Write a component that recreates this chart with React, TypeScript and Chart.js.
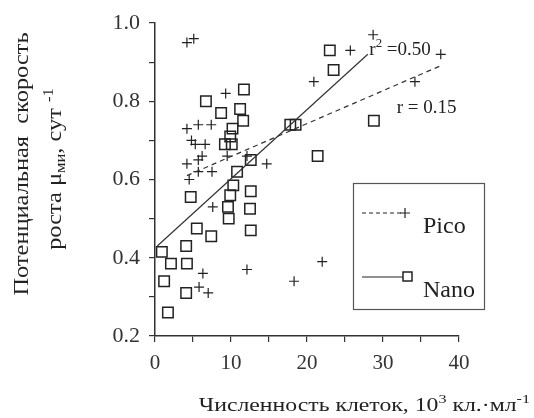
import React, { useEffect, useRef } from "react";
import { Chart, registerables } from "chart.js";
Chart.register(...registerables);

const picoX = [4.2, 5.1, 9.3, 28.7, 37.6, 34.2, 25.7, 20.9, 14.7, 22.0, 12.1, 18.3, 6.3, 5.8, 7.0, 7.6, 4.2, 5.7, 7.4, 4.8, 5.3, 6.6, 4.2, 5.7, 6.2, 12.1, 9.5, 5.7, 7.5, 4.5];
const picoY = [0.95, 0.96, 0.82, 0.97, 0.92, 0.85, 0.93, 0.85, 0.64, 0.39, 0.37, 0.34, 0.36, 0.325, 0.31, 0.53, 0.73, 0.74, 0.74, 0.70, 0.69, 0.69, 0.64, 0.65, 0.66, 0.66, 0.66, 0.62, 0.62, 0.60];
const nanoX = [11.7, 6.7, 8.7, 11.2, 11.6, 10.2, 9.9, 9.2, 10.1, 17.8, 18.5, 21.4, 23.0, 23.5, 28.8, 10.8, 12.6, 10.3, 4.7, 9.9, 12.6, 9.6, 12.5, 9.7, 5.5, 7.4, 12.6, 0.9, 2.1, 4.1, 4.2, 1.2, 4.1, 1.7];
const nanoY = [0.83, 0.80, 0.77, 0.78, 0.75, 0.73, 0.71, 0.69, 0.69, 0.74, 0.74, 0.66, 0.93, 0.88, 0.75, 0.62, 0.65, 0.585, 0.555, 0.56, 0.57, 0.53, 0.525, 0.50, 0.475, 0.455, 0.47, 0.415, 0.385, 0.43, 0.385, 0.34, 0.31, 0.26];
const picoFitX = [4.2, 37.5];
const picoFitY = [0.61, 0.89];
const nanoFitX = [0.3, 28.0];
const nanoFitY = [0.43, 0.92];
const xMin = 0, xMax = 40, xStep = 5;
const yMin = 0.2, yMax = 1.0, yStep = 0.1;
const legendLabels = ["Pico", "Nano"];
const annotR2 = { x: 28.2, y: 0.918, main: "r", sup: "2", rest: " =0.50" };
const annotR = { x: 31.8, y: 0.77, text: "r = 0.15" };

const FONT = '"Liberation Serif", "DejaVu Serif", serif';
const INK = "#222";

type Seg = { t: string; sup?: boolean; sub?: boolean };
function drawRich(ctx: CanvasRenderingContext2D, segs: Seg[], x: number, y: number, size: number, align: "left" | "center" | "right", sx = 1) {
  const parts = segs.map((s) => {
    const fs = s.sup || s.sub ? size * 0.68 : size;
    ctx.font = `${fs}px ${FONT}`;
    return { s, fs, w: ctx.measureText(s.t).width };
  });
  const total = parts.reduce((a, p) => a + p.w, 0) * sx;
  const x0 = align === "right" ? x - total : align === "center" ? x - total / 2 : x;
  ctx.save();
  ctx.translate(x0, y);
  ctx.scale(sx, 1);
  ctx.textAlign = "left";
  ctx.textBaseline = "alphabetic";
  let cx = 0;
  for (const p of parts) {
    ctx.font = `${p.fs}px ${FONT}`;
    const dy = p.s.sup ? -size * 0.42 : p.s.sub ? size * 0.22 : 0;
    ctx.fillText(p.s.t, cx, dy);
    cx += p.w;
  }
  ctx.restore();
}

const overlay = {
  id: "overlay",
  afterDraw(chart: any) {
    const ctx: CanvasRenderingContext2D = chart.ctx;
    const xs = chart.scales.x;
    const ys = chart.scales.y;
    ctx.save();
    ctx.fillStyle = INK;
    ctx.strokeStyle = INK;

    // annotations
    drawRich(ctx, [{ t: annotR2.main }, { t: annotR2.sup, sup: true }, { t: annotR2.rest }], xs.getPixelForValue(annotR2.x), ys.getPixelForValue(annotR2.y), 19, "left");
    drawRich(ctx, [{ t: annotR.text }], xs.getPixelForValue(annotR.x), ys.getPixelForValue(annotR.y), 19, "left");

    // legend box
    const bx = 353, by = 183, bw = 131, bh = 126;
    ctx.lineWidth = 1.2;
    ctx.strokeStyle = "#555";
    ctx.strokeRect(bx + 0.5, by + 0.5, bw, bh);
    ctx.strokeStyle = INK;
    // Pico entry
    ctx.lineWidth = 1.2;
    ctx.setLineDash([4, 3]);
    ctx.beginPath();
    ctx.moveTo(362, 213);
    ctx.lineTo(404, 213);
    ctx.stroke();
    ctx.setLineDash([]);
    ctx.beginPath();
    ctx.moveTo(400, 213); ctx.lineTo(410, 213);
    ctx.moveTo(405, 208); ctx.lineTo(405, 218);
    ctx.stroke();
    drawRich(ctx, [{ t: legendLabels[0] }], 423, 233, 24, "left");
    // Nano entry
    ctx.beginPath();
    ctx.moveTo(362, 277);
    ctx.lineTo(403, 277);
    ctx.stroke();
    ctx.lineWidth = 1.5;
    ctx.strokeRect(403, 272, 9, 9);
    drawRich(ctx, [{ t: legendLabels[1] }], 423, 297, 24, "left");

    // x title
    drawRich(ctx, [{ t: "Численность клеток, 10" }, { t: "3", sup: true }, { t: " кл.·мл" }, { t: "-1", sup: true }], 530, 411, 19, "right", 1.25);

    // y title
    ctx.save();
    ctx.translate(28, 164);
    ctx.rotate(-Math.PI / 2);
    drawRich(ctx, [{ t: "Потенциальная  скорость" }], 0, 0, 20, "center", 1.22);
    ctx.restore();
    ctx.save();
    ctx.translate(61, 169);
    ctx.rotate(-Math.PI / 2);
    drawRich(ctx, [{ t: "роста μ" }, { t: "ми", sub: true }, { t: ", сут " }, { t: "-1", sup: true }], 0, 0, 20, "center", 1.22);
    ctx.restore();
    ctx.restore();
  },
};

export default function App() {
  const ref = useRef<HTMLCanvasElement>(null);
  useEffect(() => {
    if (!ref.current) return;
    const pico = picoX.map((x, i) => ({ x, y: picoY[i] }));
    const nano = nanoX.map((x, i) => ({ x, y: nanoY[i] }));
    const pfit = picoFitX.map((x, i) => ({ x, y: picoFitY[i] }));
    const nfit = nanoFitX.map((x, i) => ({ x, y: nanoFitY[i] }));
    const chart = new Chart(ref.current, {
      type: "scatter",
      data: {
        datasets: [
          { label: "Pico fit", data: pfit, showLine: true, borderColor: "#333", borderWidth: 1.2, borderDash: [5, 4], pointRadius: 0, fill: false } as any,
          { label: "Nano fit", data: nfit, showLine: true, borderColor: "#333", borderWidth: 1.2, pointRadius: 0, fill: false } as any,
          { label: "Pico", data: pico, pointStyle: "cross", pointRadius: 5, borderColor: INK, borderWidth: 1.2, backgroundColor: "transparent" } as any,
          { label: "Nano", data: nano, pointStyle: "rect", pointRadius: 7.4, borderColor: INK, borderWidth: 1.5, backgroundColor: "transparent" } as any,
        ],
      },
      options: {
        animation: false,
        responsive: false,
        devicePixelRatio: 1,
        layout: { padding: { left: 0, right: 75, top: 23, bottom: 0 } },
        plugins: { legend: { display: false }, tooltip: { enabled: false } },
        scales: {
          x: {
            type: "linear",
            min: xMin,
            max: xMax,
            afterFit: (s: any) => { s.height = 82; },
            border: { display: true, color: "#333", width: 1.5 },
            grid: { drawOnChartArea: false, drawTicks: true, tickLength: 6, color: "#333", lineWidth: 1.2 },
            ticks: {
              stepSize: xStep,
              autoSkip: false,
              maxRotation: 0,
              padding: 9,
              color: "#333",
              font: { family: FONT, size: 21 },
              callback: (v: any) => (Math.round(Number(v)) % 10 === 0 ? String(Math.round(Number(v))) : ""),
            },
          },
          y: {
            type: "linear",
            min: yMin,
            max: yMax,
            afterFit: (s: any) => { s.width = 155; },
            border: { display: true, color: "#333", width: 1.5 },
            grid: { drawOnChartArea: false, drawTicks: true, tickLength: 6, color: "#333", lineWidth: 1.2 },
            ticks: {
              stepSize: yStep,
              autoSkip: false,
              padding: 9,
              color: "#333",
              font: { family: FONT, size: 22 },
              callback: (v: any) => {
                const r = Math.round(Number(v) * 10);
                return r % 2 === 0 ? (r / 10).toFixed(1) : "";
              },
            },
          },
        },
      },
      plugins: [overlay],
    });
    return () => chart.destroy();
  }, []);
  return (
    <div style={{ position: "fixed", left: 0, top: 0, width: 534, height: 418, background: "#fff" }}>
      <canvas ref={ref} width={534} height={418} style={{ width: 534, height: 418 }} />
    </div>
  );
}
